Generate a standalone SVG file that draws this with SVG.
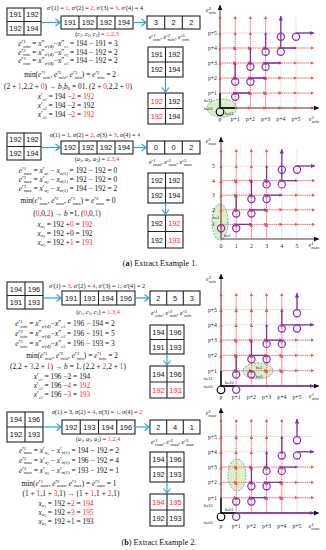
<svg xmlns="http://www.w3.org/2000/svg" width="326" height="550" viewBox="0 0 326 550">
<defs>
<style>
.cell{fill:#fff;stroke:#222;stroke-width:1.1}
.cl{stroke:#222;stroke-width:1.1}
.num{font-family:"Liberation Sans",Arial,sans-serif;font-size:7.4px;text-anchor:middle;fill:#111}
.r{fill:#ff1f1f}
.eq{font-family:"Liberation Serif","Times New Roman",serif;font-size:7.4px;text-anchor:middle;fill:#111}
.sg{font-family:"Liberation Serif","Times New Roman",serif;font-size:6.3px;fill:#111}
.s{font-size:4.8px}
.ss{font-size:3.6px}
.i{font-style:italic}
.ba{stroke:#2aa4e2;stroke-width:1.2;fill:none;marker-end:url(#ba)}
.gr{stroke:#d9d9d9;stroke-width:0.7}
.ax{stroke:#111;stroke-width:0.8;fill:none;marker-end:url(#ax)}
.rd{stroke:#ff5c5c;stroke-width:0.9;stroke-dasharray:1.3 0.9;fill:none;marker-mid:url(#ra);marker-end:url(#ra)}
.pu{stroke:#7b2fbe;stroke-width:1.3;fill:none}
.pa{marker-end:url(#pa)}
.bk{stroke:#000;stroke-width:1.3;fill:none}
.lp{fill:none;stroke:#7b2fbe;stroke-width:1.2}
.lb{fill:none;stroke:#000;stroke-width:1.2}
.el{fill:#d6efc2;fill-opacity:0.9;stroke:#4b98a6;stroke-width:0.8;stroke-dasharray:2 1.2}
.tl{font-family:"Liberation Serif","Times New Roman",serif;font-size:5.8px;fill:#222}
.tm{text-anchor:middle}
.te{text-anchor:end}
.bl{font-family:"Liberation Sans",Arial,sans-serif;font-size:3.8px;fill:#333}
.cap{font-family:"Liberation Serif","Times New Roman",serif;font-size:8.2px;text-anchor:middle;fill:#111}
</style>
<marker id="ba" markerUnits="userSpaceOnUse" markerWidth="7" markerHeight="9" refX="5.5" refY="4.5" orient="auto"><path d="M1,1 L5.5,4.5 L1,8" fill="none" stroke="#2aa4e2" stroke-width="1.2"/></marker>
<marker id="ax" markerUnits="userSpaceOnUse" markerWidth="5" markerHeight="5" viewBox="0 0 6 6" refX="6" refY="3" orient="auto"><path d="M0,0 L6,3 L0,6 z" fill="#111"/></marker>
<marker id="ra" markerUnits="userSpaceOnUse" markerWidth="3.6" markerHeight="3.6" viewBox="0 0 6 6" refX="4" refY="3" orient="auto"><path d="M0,0 L6,3 L0,6 z" fill="#ff4a4a"/></marker>
<marker id="pa" markerUnits="userSpaceOnUse" markerWidth="4.5" markerHeight="4.5" viewBox="0 0 6 6" refX="6" refY="3" orient="auto"><path d="M0,0 L6,3 L0,6 z" fill="#7b2fbe"/></marker>
</defs>
<rect width="326" height="550" fill="#fff"/>

<!-- ================= PANEL 1 ================= -->
<g id="p1-gridA"><rect class="cell" x="7" y="8" width="34" height="27"/><path class="cl" d="M24,8V35M7,21.5H41"/>
<text class="num" x="15.5" y="17.4">191</text><text class="num" x="32.5" y="17.4">192</text><text class="num" x="15.5" y="31">192</text><text class="num" x="32.5" y="31">194</text></g>
<g id="p1-row4"><rect class="cell" x="61" y="16" width="72" height="13"/><path class="cl" d="M79,16V29M97,16V29M115,16V29"/>
<text class="num" x="70" y="25.2">191</text><text class="num" x="88" y="25.2">192</text><text class="num" x="106" y="25.2">192</text><text class="num" x="124" y="25.2">194</text></g>
<g id="p1-row3"><rect class="cell" x="147" y="16" width="53" height="13"/><path class="cl" d="M164.7,16V29M182.3,16V29"/>
<text class="num" x="155.8" y="25.2">3</text><text class="num" x="173.5" y="25.2">2</text><text class="num" x="191.2" y="25.2">2</text></g>
<g id="p1-gridB"><rect class="cell" x="148" y="47" width="35" height="30"/><path class="cl" d="M165.5,47V77M148,62H183"/>
<text class="num" x="156.8" y="57.3">191</text><text class="num" x="174.3" y="57.3">192</text><text class="num" x="156.8" y="72.3">192</text><text class="num" x="174.3" y="72.3">194</text></g>
<g id="p1-gridC"><rect class="cell" x="148" y="93" width="35" height="31"/><path class="cl" d="M165.5,93V124M148,108.5H183"/>
<text class="num r" x="156.8" y="103.6">192</text><text class="num" x="174.3" y="103.6">192</text><text class="num r" x="156.8" y="119.1">192</text><text class="num" x="174.3" y="119.1">194</text></g>
<g id="p1-text">
<text class="sg" x="95" y="9.5" text-anchor="middle"><tspan class="i">σ′</tspan>(1) = <tspan class="r">1</tspan>, <tspan class="i">σ′</tspan>(2) = <tspan class="r">2</tspan>, <tspan class="i">σ′</tspan>(3) = <tspan class="r">3</tspan>, <tspan class="i">σ′</tspan>(4) = 4</text>
<text class="sg" x="97" y="36" text-anchor="middle">(<tspan class="i">c</tspan><tspan class="ss" dy="1">1</tspan><tspan dy="-1">, </tspan><tspan class="i">c</tspan><tspan class="ss" dy="1">2</tspan><tspan dy="-1">, </tspan><tspan class="i">c</tspan><tspan class="ss" dy="1">3</tspan><tspan dy="-1">) = </tspan><tspan class="r">1,2,3</tspan></text>
<text class="sg" x="149" y="39"><tspan class="i">e</tspan>′<tspan class="s" dy="-2.4">1</tspan><tspan class="s i" dx="-2.4" dy="4">min</tspan><tspan dy="-1.6">, </tspan><tspan class="i">e</tspan>′<tspan class="s" dy="-2.4">2</tspan><tspan class="s i" dx="-2.4" dy="4">min</tspan><tspan dy="-1.6">, </tspan><tspan class="i">e</tspan>′<tspan class="s" dy="-2.4">3</tspan><tspan class="s i" dx="-2.4" dy="4">min</tspan></text>
<text class="eq" x="68" y="46"><tspan class="i">e</tspan>′<tspan class="s" dy="-2.8">1</tspan><tspan class="s i" dx="-2.4" dy="4.4">min</tspan><tspan dy="-1.6"> = </tspan><tspan class="i">x</tspan>″<tspan class="s i" dy="1.6">σ′(4)</tspan><tspan dy="-1.6">−</tspan><tspan class="i">x</tspan>″<tspan class="s i" dy="1.6">c</tspan><tspan class="ss" dy="0.8">1</tspan><tspan dy="-2.4"> = 194 − 191 = 3</tspan></text>
<text class="eq" x="68" y="54.5"><tspan class="i">e</tspan>′<tspan class="s" dy="-2.8">2</tspan><tspan class="s i" dx="-2.4" dy="4.4">min</tspan><tspan dy="-1.6"> = </tspan><tspan class="i">x</tspan>″<tspan class="s i" dy="1.6">σ′(4)</tspan><tspan dy="-1.6">−</tspan><tspan class="i">x</tspan>″<tspan class="s i" dy="1.6">c</tspan><tspan class="ss" dy="0.8">2</tspan><tspan dy="-2.4"> = 194 − 192 = 2</tspan></text>
<text class="eq" x="68" y="63"><tspan class="i">e</tspan>′<tspan class="s" dy="-2.8">3</tspan><tspan class="s i" dx="-2.4" dy="4.4">min</tspan><tspan dy="-1.6"> = </tspan><tspan class="i">x</tspan>″<tspan class="s i" dy="1.6">σ′(4)</tspan><tspan dy="-1.6">−</tspan><tspan class="i">x</tspan>″<tspan class="s i" dy="1.6">c</tspan><tspan class="ss" dy="0.8">3</tspan><tspan dy="-2.4"> = 194 − 192 = 2</tspan></text>
<text class="eq" x="70" y="77">min(<tspan class="i">e</tspan>′<tspan class="s" dy="-2.8">1</tspan><tspan class="s i" dx="-2.4" dy="4.4">min</tspan><tspan dy="-1.6">, </tspan><tspan class="i">e</tspan>′<tspan class="s" dy="-2.8">2</tspan><tspan class="s i" dx="-2.4" dy="4.4">min</tspan><tspan dy="-1.6">, </tspan><tspan class="i">e</tspan>′<tspan class="s" dy="-2.8">3</tspan><tspan class="s i" dx="-2.4" dy="4.4">min</tspan><tspan dy="-1.6">) = </tspan><tspan class="i">e</tspan>′<tspan class="s" dy="-2.8">2</tspan><tspan class="s i" dx="-2.4" dy="4.4">min</tspan><tspan dy="-1.6"> = 2</tspan></text>
<text class="eq" x="68" y="89">(2 + <tspan class="r">1</tspan>,2,2 + <tspan class="r">0</tspan>) → <tspan class="i">b</tspan><tspan class="s" dy="1.4">1</tspan><tspan class="i" dy="-1.4">b</tspan><tspan class="s" dy="1.4">0</tspan><tspan dy="-1.4"> = 01, (2 + </tspan><tspan class="r">0</tspan>,2,2 + <tspan class="r">0</tspan>)</text>
<text class="eq" x="66" y="99"><tspan class="i">x</tspan>′<tspan class="s i" dy="1.6">c</tspan><tspan class="ss" dy="0.8">1</tspan><tspan dy="-2.4"> = 194 −</tspan><tspan class="r">2</tspan> = <tspan class="r">192</tspan></text>
<text class="eq" x="66" y="108"><tspan class="i">x</tspan>′<tspan class="s i" dy="1.6">c</tspan><tspan class="ss" dy="0.8">2</tspan><tspan dy="-2.4"> = 194 −2 = 192</tspan></text>
<text class="eq" x="66" y="117"><tspan class="i">x</tspan>′<tspan class="s i" dy="1.6">c</tspan><tspan class="ss" dy="0.8">3</tspan><tspan dy="-2.4"> = 194 −</tspan><tspan class="r">2</tspan> = <tspan class="r">192</tspan></text>
</g>

<!-- ================= PANEL 2 ================= -->
<g id="p2-gridA"><rect class="cell" x="7" y="133" width="34" height="27"/><path class="cl" d="M24,133V160M7,146.5H41"/>
<text class="num" x="15.5" y="142.4">192</text><text class="num" x="32.5" y="142.4">192</text><text class="num" x="15.5" y="156">192</text><text class="num" x="32.5" y="156">194</text></g>
<g id="p2-row4"><rect class="cell" x="61" y="141" width="72" height="13"/><path class="cl" d="M79,141V154M97,141V154M115,141V154"/>
<text class="num" x="70" y="150.2">192</text><text class="num" x="88" y="150.2">192</text><text class="num" x="106" y="150.2">192</text><text class="num" x="124" y="150.2">194</text></g>
<g id="p2-row3"><rect class="cell" x="147" y="141" width="53" height="13"/><path class="cl" d="M164.7,141V154M182.3,141V154"/>
<text class="num" x="155.8" y="150.2">0</text><text class="num" x="173.5" y="150.2">0</text><text class="num" x="191.2" y="150.2">2</text></g>
<g id="p2-gridB"><rect class="cell" x="148" y="173" width="35" height="30"/><path class="cl" d="M165.5,173V203M148,188H183"/>
<text class="num" x="156.8" y="183.3">192</text><text class="num" x="174.3" y="183.3">192</text><text class="num" x="156.8" y="198.3">192</text><text class="num" x="174.3" y="198.3">194</text></g>
<g id="p2-gridC"><rect class="cell" x="148" y="215" width="35" height="33"/><path class="cl" d="M165.5,215V248M148,231.5H183"/>
<text class="num" x="156.8" y="226">192</text><text class="num r" x="174.3" y="226">192</text><text class="num" x="156.8" y="242.5">192</text><text class="num r" x="174.3" y="242.5">193</text></g>
<g id="p2-text">
<text class="sg" x="95" y="137" text-anchor="middle"><tspan class="i">σ</tspan>(1) = 1, <tspan class="i">σ</tspan>(2) = <tspan class="r">2</tspan>, <tspan class="i">σ</tspan>(3) = <tspan class="r">3</tspan>, <tspan class="i">σ</tspan>(4) = <tspan class="r">4</tspan></text>
<text class="sg" x="97" y="161" text-anchor="middle">(<tspan class="i">a</tspan><tspan class="ss" dy="1">1</tspan><tspan dy="-1">, </tspan><tspan class="i">a</tspan><tspan class="ss" dy="1">2</tspan><tspan dy="-1">, </tspan><tspan class="i">a</tspan><tspan class="ss" dy="1">3</tspan><tspan dy="-1">) = </tspan><tspan class="r">2,3,4</tspan></text>
<text class="sg" x="149" y="164"><tspan class="i">e</tspan>′<tspan class="s" dy="-2.4">1</tspan><tspan class="s i" dx="-2.4" dy="4">max</tspan><tspan dy="-1.6">, </tspan><tspan class="i">e</tspan>′<tspan class="s" dy="-2.4">2</tspan><tspan class="s i" dx="-2.4" dy="4">max</tspan><tspan dy="-1.6">, </tspan><tspan class="i">e</tspan>′<tspan class="s" dy="-2.4">3</tspan><tspan class="s i" dx="-2.4" dy="4">max</tspan></text>
<text class="eq" x="68" y="173"><tspan class="i">e</tspan>′<tspan class="s" dy="-2.8">1</tspan><tspan class="s i" dx="-2.4" dy="4.4">max</tspan><tspan dy="-1.6"> = </tspan><tspan class="i">x</tspan>′<tspan class="s i" dy="1.6">a</tspan><tspan class="ss" dy="0.8">1</tspan><tspan dy="-2.4"> − </tspan><tspan class="i">x</tspan><tspan class="s i" dy="1.6">σ(1)</tspan><tspan dy="-1.6"> = 192 − 192 = 0</tspan></text>
<text class="eq" x="68" y="181.5"><tspan class="i">e</tspan>′<tspan class="s" dy="-2.8">2</tspan><tspan class="s i" dx="-2.4" dy="4.4">max</tspan><tspan dy="-1.6"> = </tspan><tspan class="i">x</tspan>′<tspan class="s i" dy="1.6">a</tspan><tspan class="ss" dy="0.8">2</tspan><tspan dy="-2.4"> − </tspan><tspan class="i">x</tspan><tspan class="s i" dy="1.6">σ(1)</tspan><tspan dy="-1.6"> = 192 − 192 = 0</tspan></text>
<text class="eq" x="68" y="190.5"><tspan class="i">e</tspan>′<tspan class="s" dy="-2.8">3</tspan><tspan class="s i" dx="-2.4" dy="4.4">max</tspan><tspan dy="-1.6"> = </tspan><tspan class="i">x</tspan>′<tspan class="s i" dy="1.6">a</tspan><tspan class="ss" dy="0.8">3</tspan><tspan dy="-2.4"> − </tspan><tspan class="i">x</tspan><tspan class="s i" dy="1.6">σ(1)</tspan><tspan dy="-1.6"> = 194 − 192 = 2</tspan></text>
<text class="eq" x="68" y="203">min(<tspan class="i">e</tspan>′<tspan class="s" dy="-2.8">1</tspan><tspan class="s i" dx="-2.4" dy="4.4">max</tspan><tspan dy="-1.6">, </tspan><tspan class="i">e</tspan>′<tspan class="s" dy="-2.8">2</tspan><tspan class="s i" dx="-2.4" dy="4.4">max</tspan><tspan dy="-1.6">, </tspan><tspan class="i">e</tspan>′<tspan class="s" dy="-2.8">3</tspan><tspan class="s i" dx="-2.4" dy="4.4">max</tspan><tspan dy="-1.6">) = </tspan><tspan class="i">e</tspan>′<tspan class="s" dy="-2.8">2</tspan><tspan class="s i" dx="-2.4" dy="4.4">max</tspan><tspan dy="-1.6"> = 0</tspan></text>
<text class="eq" x="67" y="216">(<tspan class="r">0</tspan>,0,<tspan class="r">2</tspan>) → <tspan class="i">b</tspan> =1, (<tspan class="r">0</tspan>,0,<tspan class="r">1</tspan>)</text>
<text class="eq" x="65" y="226.5"><tspan class="i">x</tspan><tspan class="s i" dy="1.6">a</tspan><tspan class="ss" dy="0.8">1</tspan><tspan dy="-2.4"> = 192 +</tspan><tspan class="r">0</tspan> = <tspan class="r">192</tspan></text>
<text class="eq" x="65" y="235.5"><tspan class="i">x</tspan><tspan class="s i" dy="1.6">a</tspan><tspan class="ss" dy="0.8">2</tspan><tspan dy="-2.4"> = 192 +0 = 192</tspan></text>
<text class="eq" x="65" y="244.5"><tspan class="i">x</tspan><tspan class="s i" dy="1.6">a</tspan><tspan class="ss" dy="0.8">3</tspan><tspan dy="-2.4"> = 192 +</tspan><tspan class="r">1</tspan> = <tspan class="r">193</tspan></text>
</g>
<text class="cap" x="160" y="266">(<tspan font-weight="bold">a</tspan>) Extract Example 1.</text>

<!-- ================= PANEL 3 ================= -->
<g id="p3-gridA"><rect class="cell" x="7" y="282" width="36" height="27"/><path class="cl" d="M25,282V309M7,295.5H43"/>
<text class="num" x="16" y="291.5">194</text><text class="num" x="34" y="291.5">196</text><text class="num" x="16" y="305">191</text><text class="num" x="34" y="305">193</text></g>
<g id="p3-row4"><rect class="cell" x="62" y="291" width="73" height="14"/><path class="cl" d="M80.25,291V305M98.5,291V305M116.75,291V305"/>
<text class="num" x="71.1" y="300.7">191</text><text class="num" x="89.4" y="300.7">193</text><text class="num" x="107.6" y="300.7">194</text><text class="num" x="125.9" y="300.7">196</text></g>
<g id="p3-row3"><rect class="cell" x="150" y="291" width="50" height="14"/><path class="cl" d="M166.7,291V305M183.3,291V305"/>
<text class="num" x="158.3" y="300.7">2</text><text class="num" x="175" y="300.7">5</text><text class="num" x="191.7" y="300.7">3</text></g>
<g id="p3-gridB"><rect class="cell" x="150" y="325" width="34" height="29"/><path class="cl" d="M167,325V354M150,339.5H184"/>
<text class="num" x="158.5" y="335">194</text><text class="num" x="175.5" y="335">196</text><text class="num" x="158.5" y="349.5">191</text><text class="num" x="175.5" y="349.5">193</text></g>
<g id="p3-gridC"><rect class="cell" x="150" y="366" width="34" height="32"/><path class="cl" d="M167,366V398M150,382H184"/>
<text class="num" x="158.5" y="377">194</text><text class="num" x="175.5" y="377">196</text><text class="num r" x="158.5" y="393">192</text><text class="num r" x="175.5" y="393">193</text></g>
<g id="p3-text">
<text class="sg" x="97" y="287.5" text-anchor="middle"><tspan class="i">σ′</tspan>(1) = <tspan class="r">3</tspan>, <tspan class="i">σ′</tspan>(2) = <tspan class="r">4</tspan>, <tspan class="i">σ′</tspan>(3) = <tspan class="r">1</tspan>, <tspan class="i">σ′</tspan>(4) = 2</text>
<text class="sg" x="98" y="314" text-anchor="middle">(<tspan class="i">c</tspan><tspan class="ss" dy="1">1</tspan><tspan dy="-1">, </tspan><tspan class="i">c</tspan><tspan class="ss" dy="1">2</tspan><tspan dy="-1">, </tspan><tspan class="i">c</tspan><tspan class="ss" dy="1">3</tspan><tspan dy="-1">) = </tspan><tspan class="r">1,3,4</tspan></text>
<text class="sg" x="151" y="315"><tspan class="i">e</tspan>′<tspan class="s" dy="-2.4">1</tspan><tspan class="s i" dx="-2.4" dy="4">min</tspan><tspan dy="-1.6">, </tspan><tspan class="i">e</tspan>′<tspan class="s" dy="-2.4">2</tspan><tspan class="s i" dx="-2.4" dy="4">min</tspan><tspan dy="-1.6">, </tspan><tspan class="i">e</tspan>′<tspan class="s" dy="-2.4">3</tspan><tspan class="s i" dx="-2.4" dy="4">min</tspan></text>
<text class="eq" x="65" y="326"><tspan class="i">e</tspan>′<tspan class="s" dy="-2.8">1</tspan><tspan class="s i" dx="-2.4" dy="4.4">min</tspan><tspan dy="-1.6"> = </tspan><tspan class="i">x</tspan>″<tspan class="s i" dy="1.6">σ′(4)</tspan><tspan dy="-1.6">−</tspan><tspan class="i">x</tspan>″<tspan class="s i" dy="1.6">c</tspan><tspan class="ss" dy="0.8">1</tspan><tspan dy="-2.4"> = 196 − 194 = 2</tspan></text>
<text class="eq" x="65" y="336"><tspan class="i">e</tspan>′<tspan class="s" dy="-2.8">2</tspan><tspan class="s i" dx="-2.4" dy="4.4">min</tspan><tspan dy="-1.6"> = </tspan><tspan class="i">x</tspan>″<tspan class="s i" dy="1.6">σ′(4)</tspan><tspan dy="-1.6">−</tspan><tspan class="i">x</tspan>″<tspan class="s i" dy="1.6">c</tspan><tspan class="ss" dy="0.8">2</tspan><tspan dy="-2.4"> = 196 − 191 = 5</tspan></text>
<text class="eq" x="65" y="346"><tspan class="i">e</tspan>′<tspan class="s" dy="-2.8">3</tspan><tspan class="s i" dx="-2.4" dy="4.4">min</tspan><tspan dy="-1.6"> = </tspan><tspan class="i">x</tspan>″<tspan class="s i" dy="1.6">σ′(4)</tspan><tspan dy="-1.6">−</tspan><tspan class="i">x</tspan>″<tspan class="s i" dy="1.6">c</tspan><tspan class="ss" dy="0.8">3</tspan><tspan dy="-2.4"> = 196 − 193 = 3</tspan></text>
<text class="eq" x="72" y="358">min(<tspan class="i">e</tspan>′<tspan class="s" dy="-2.8">1</tspan><tspan class="s i" dx="-2.4" dy="4.4">min</tspan><tspan dy="-1.6">, </tspan><tspan class="i">e</tspan>′<tspan class="s" dy="-2.8">2</tspan><tspan class="s i" dx="-2.4" dy="4.4">min</tspan><tspan dy="-1.6">, </tspan><tspan class="i">e</tspan>′<tspan class="s" dy="-2.8">3</tspan><tspan class="s i" dx="-2.4" dy="4.4">min</tspan><tspan dy="-1.6">) = </tspan><tspan class="i">e</tspan>′<tspan class="s" dy="-2.8">1</tspan><tspan class="s i" dx="-2.4" dy="4.4">min</tspan><tspan dy="-1.6"> = 2</tspan></text>
<text class="eq" x="68" y="369">(2,2 + <tspan class="r">3</tspan>,2 + <tspan class="r">1</tspan>) → <tspan class="i">b</tspan> = 1, (2,2 + <tspan class="r">2</tspan>,2 + <tspan class="r">1</tspan>)</text>
<text class="eq" x="62" y="379"><tspan class="i">x</tspan>′<tspan class="s i" dy="1.6">c</tspan><tspan class="ss" dy="0.8">1</tspan><tspan dy="-2.4"> = 196 −2 = 194</tspan></text>
<text class="eq" x="62" y="388"><tspan class="i">x</tspan>′<tspan class="s i" dy="1.6">c</tspan><tspan class="ss" dy="0.8">2</tspan><tspan dy="-2.4"> = 196 −</tspan><tspan class="r">4</tspan> = <tspan class="r">192</tspan></text>
<text class="eq" x="62" y="397"><tspan class="i">x</tspan>′<tspan class="s i" dy="1.6">c</tspan><tspan class="ss" dy="0.8">3</tspan><tspan dy="-2.4"> = 196 −</tspan><tspan class="r">3</tspan> = <tspan class="r">193</tspan></text>
</g>

<!-- ================= PANEL 4 ================= -->
<g id="p4-gridA"><rect class="cell" x="7" y="412" width="36" height="30"/><path class="cl" d="M25,412V442M7,427H43"/>
<text class="num" x="16" y="422.2">194</text><text class="num" x="34" y="422.2">196</text><text class="num" x="16" y="437.2">192</text><text class="num" x="34" y="437.2">193</text></g>
<g id="p4-row4"><rect class="cell" x="62" y="420" width="73" height="14"/><path class="cl" d="M80.25,420V434M98.5,420V434M116.75,420V434"/>
<text class="num" x="71.1" y="429.7">192</text><text class="num" x="89.4" y="429.7">193</text><text class="num" x="107.6" y="429.7">194</text><text class="num" x="125.9" y="429.7">196</text></g>
<g id="p4-row3"><rect class="cell" x="150" y="420" width="50" height="14"/><path class="cl" d="M166.7,420V434M183.3,420V434"/>
<text class="num" x="158.3" y="429.7">2</text><text class="num" x="175" y="429.7">4</text><text class="num" x="191.7" y="429.7">1</text></g>
<g id="p4-gridB"><rect class="cell" x="150" y="452" width="34" height="30"/><path class="cl" d="M167,452V482M150,467H184"/>
<text class="num" x="158.5" y="462.2">194</text><text class="num" x="175.5" y="462.2">196</text><text class="num" x="158.5" y="477.2">192</text><text class="num" x="175.5" y="477.2">193</text></g>
<g id="p4-gridC"><rect class="cell" x="150" y="494" width="34" height="32"/><path class="cl" d="M167,494V526M150,510H184"/>
<text class="num r" x="158.5" y="504.7">194</text><text class="num r" x="175.5" y="504.7">195</text><text class="num" x="158.5" y="520.7">192</text><text class="num" x="175.5" y="520.7">193</text></g>
<g id="p4-text">
<text class="sg" x="97" y="414" text-anchor="middle"><tspan class="i">σ</tspan>(1) = 3, <tspan class="i">σ</tspan>(2) = <tspan class="r">4</tspan>, <tspan class="i">σ</tspan>(3) = <tspan class="r">1</tspan>, <tspan class="i">σ</tspan>(4) = <tspan class="r">2</tspan></text>
<text class="sg" x="98" y="441" text-anchor="middle">(<tspan class="i">a</tspan><tspan class="ss" dy="1">1</tspan><tspan dy="-1">, </tspan><tspan class="i">a</tspan><tspan class="ss" dy="1">2</tspan><tspan dy="-1">, </tspan><tspan class="i">a</tspan><tspan class="ss" dy="1">3</tspan><tspan dy="-1">) = </tspan><tspan class="r">1,2,4</tspan></text>
<text class="sg" x="151" y="444"><tspan class="i">e</tspan>′<tspan class="s" dy="-2.4">1</tspan><tspan class="s i" dx="-2.4" dy="4">max</tspan><tspan dy="-1.6">, </tspan><tspan class="i">e</tspan>′<tspan class="s" dy="-2.4">2</tspan><tspan class="s i" dx="-2.4" dy="4">max</tspan><tspan dy="-1.6">, </tspan><tspan class="i">e</tspan>′<tspan class="s" dy="-2.4">3</tspan><tspan class="s i" dx="-2.4" dy="4">max</tspan></text>
<text class="eq" x="69" y="452.5"><tspan class="i">e</tspan>′<tspan class="s" dy="-2.8">1</tspan><tspan class="s i" dx="-2.4" dy="4.4">max</tspan><tspan dy="-1.6"> = </tspan><tspan class="i">x</tspan>′<tspan class="s i" dy="1.6">a</tspan><tspan class="ss" dy="0.8">1</tspan><tspan dy="-2.4"> − </tspan><tspan class="i">x</tspan>′<tspan class="s i" dy="1.6">σ(1)</tspan><tspan dy="-1.6"> = 194 − 192 = 2</tspan></text>
<text class="eq" x="69" y="462.5"><tspan class="i">e</tspan>′<tspan class="s" dy="-2.8">2</tspan><tspan class="s i" dx="-2.4" dy="4.4">max</tspan><tspan dy="-1.6"> = </tspan><tspan class="i">x</tspan>′<tspan class="s i" dy="1.6">a</tspan><tspan class="ss" dy="0.8">2</tspan><tspan dy="-2.4"> − </tspan><tspan class="i">x</tspan>′<tspan class="s i" dy="1.6">σ(1)</tspan><tspan dy="-1.6"> = 196 − 192 = 4</tspan></text>
<text class="eq" x="69" y="472.5"><tspan class="i">e</tspan>′<tspan class="s" dy="-2.8">3</tspan><tspan class="s i" dx="-2.4" dy="4.4">max</tspan><tspan dy="-1.6"> = </tspan><tspan class="i">x</tspan>′<tspan class="s i" dy="1.6">a</tspan><tspan class="ss" dy="0.8">3</tspan><tspan dy="-2.4"> − </tspan><tspan class="i">x</tspan>′<tspan class="s i" dy="1.6">σ(1)</tspan><tspan dy="-1.6"> = 193 − 192 = 1</tspan></text>
<text class="eq" x="69" y="485.5">min(<tspan class="i">e</tspan>′<tspan class="s" dy="-2.8">1</tspan><tspan class="s i" dx="-2.4" dy="4.4">max</tspan><tspan dy="-1.6">, </tspan><tspan class="i">e</tspan>′<tspan class="s" dy="-2.8">2</tspan><tspan class="s i" dx="-2.4" dy="4.4">max</tspan><tspan dy="-1.6">, </tspan><tspan class="i">e</tspan>′<tspan class="s" dy="-2.8">3</tspan><tspan class="s i" dx="-2.4" dy="4.4">max</tspan><tspan dy="-1.6">) = </tspan><tspan class="i">e</tspan>′<tspan class="s" dy="-2.8">3</tspan><tspan class="s i" dx="-2.4" dy="4.4">max</tspan><tspan dy="-1.6"> = 1</tspan></text>
<text class="eq" x="71" y="495.5">(1 + <tspan class="r">1</tspan>,1 + <tspan class="r">3</tspan>,1) → (1 + <tspan class="r">1</tspan>,1 + <tspan class="r">2</tspan>,1)</text>
<text class="eq" x="66" y="505.5"><tspan class="i">x</tspan><tspan class="s i" dy="1.6">a</tspan><tspan class="ss" dy="0.8">1</tspan><tspan dy="-2.4"> = 192 +</tspan><tspan class="r">2</tspan> = <tspan class="r">194</tspan></text>
<text class="eq" x="66" y="514.5"><tspan class="i">x</tspan><tspan class="s i" dy="1.6">a</tspan><tspan class="ss" dy="0.8">2</tspan><tspan dy="-2.4"> = 192 +</tspan><tspan class="r">3</tspan> = <tspan class="r">195</tspan></text>
<text class="eq" x="66" y="523.5"><tspan class="i">x</tspan><tspan class="s i" dy="1.6">a</tspan><tspan class="ss" dy="0.8">3</tspan><tspan dy="-2.4"> = 192 +1 = 193</tspan></text>
</g>
<text class="cap" x="159" y="545">(<tspan font-weight="bold">b</tspan>) Extract Example 2.</text>

<!-- ================= PLOT 1 ================= -->
<g id="plot1">
<path class="gr" d="M235.2,108V17M250.4,108V17M265.6,108V17M280.8,108V17M296,108V17M220,93H313M220,78H313M220,63H313M220,48H313M220,33H313"/>
<ellipse class="el" cx="222" cy="108" rx="15" ry="9"/>
<path class="ax" d="M220,108V5"/><path class="ax" d="M220,108H319"/>
<polyline class="rd" points="235.2,108 250.4,108 265.6,108 280.8,108 296,108 313,108"/>
<polyline class="rd" points="220,93 235.2,93 250.4,93 265.6,93 280.8,93 296,93 313,93"/>
<polyline class="rd" points="220,78 235.2,78 250.4,78 265.6,78 280.8,78 296,78 313,78"/>
<polyline class="rd" points="220,63 235.2,63 250.4,63 265.6,63 280.8,63 296,63 313,63"/>
<polyline class="rd" points="220,48 235.2,48 250.4,48 265.6,48 280.8,48 296,48 313,48"/>
<polyline class="rd" points="220,93 220,78 220,63 220,48 220,33 220,17"/>
<polyline class="rd" points="235.2,108 235.2,93 235.2,78 235.2,63 235.2,48 235.2,33 235.2,17"/>
<polyline class="rd" points="250.4,108 250.4,93 250.4,78 250.4,63 250.4,48 250.4,33 250.4,17"/>
<polyline class="rd" points="265.6,108 265.6,93 265.6,78 265.6,63 265.6,48 265.6,33 265.6,17"/>
<path class="bk" d="M220,108H235.2M220,108V93"/>
<path class="pu" d="M235.2,93H250.4M250.4,78H265.6M265.6,63H280.8M280.8,48H296M235.2,78V63M250.4,63V48M265.6,48V33"/>
<path class="pu pa" d="M296,33H314"/><path class="pu pa" d="M280.8,48V16"/>
<circle class="lb" cx="220" cy="111.8" r="3.8"/>
<circle class="lp" cx="235.2" cy="96.8" r="3.6"/><circle class="lp" cx="235.2" cy="81.8" r="3.6"/><circle class="lp" cx="250.4" cy="81.8" r="3.6"/><circle class="lp" cx="250.4" cy="66.8" r="3.6"/><circle class="lp" cx="265.6" cy="66.8" r="3.6"/><circle class="lp" cx="265.6" cy="51.8" r="3.6"/><circle class="lp" cx="280.8" cy="51.8" r="3.6"/><circle class="lp" cx="280.8" cy="36.8" r="3.6"/><circle class="lp" cx="296" cy="36.8" r="3.6"/>
<text class="bl" x="204" y="102">b=11</text><text class="bl" x="204" y="110">b=00</text><text class="bl" x="225" y="115">b=01</text>
<text class="tl te" x="217" y="95">p+1</text><text class="tl te" x="217" y="80">p+2</text><text class="tl te" x="217" y="65">p+3</text><text class="tl te" x="217" y="50">p+4</text><text class="tl te" x="217" y="35">p+5</text>
<text class="tl tm" x="220" y="121">p</text><text class="tl tm" x="235.2" y="121">p+1</text><text class="tl tm" x="250.4" y="121">p+2</text><text class="tl tm" x="265.6" y="121">p+3</text><text class="tl tm" x="280.8" y="121">p+4</text><text class="tl tm" x="296" y="121">p+5</text>
<text class="tl tm" x="211" y="12"><tspan class="i">e</tspan><tspan class="s" dy="-2">2</tspan><tspan class="s i" dx="-2.4" dy="3.6">min</tspan></text>
<text class="tl tm" x="314" y="121"><tspan class="i">e</tspan><tspan class="s" dy="-2">1</tspan><tspan class="s i" dx="-2.4" dy="3.6">min</tspan></text>
</g>

<!-- ================= PLOT 2 ================= -->
<g id="plot2">
<path class="gr" d="M236.2,239V150M251.4,239V150M266.6,239V150M281.8,239V150M297,239V150M221,224.4H314M221,209.8H314M221,195.2H314M221,180.6H314M221,166H314"/>
<ellipse class="el" cx="220" cy="222" rx="8" ry="18"/>
<path class="ax" d="M221,239V137"/><path class="ax" d="M221,239H319"/>
<polyline class="rd" points="221,224.4 236.2,224.4 251.4,224.4 266.6,224.4 281.8,224.4 297,224.4 314,224.4"/>
<polyline class="rd" points="221,209.8 236.2,209.8 251.4,209.8 266.6,209.8 281.8,209.8 297,209.8 314,209.8"/>
<polyline class="rd" points="221,195.2 236.2,195.2 251.4,195.2 266.6,195.2 281.8,195.2 297,195.2 314,195.2"/>
<polyline class="rd" points="221,180.6 236.2,180.6 251.4,180.6 266.6,180.6 281.8,180.6 297,180.6 314,180.6"/>
<polyline class="rd" points="221,239 221,224.4 221,209.8 221,195.2 221,180.6 221,166 221,150"/>
<polyline class="rd" points="236.2,239 236.2,224.4 236.2,209.8 236.2,195.2 236.2,180.6 236.2,166 236.2,150"/>
<polyline class="rd" points="251.4,239 251.4,224.4 251.4,209.8 251.4,195.2 251.4,180.6 251.4,166 251.4,150"/>
<polyline class="rd" points="266.6,239 266.6,224.4 266.6,209.8 266.6,195.2 266.6,180.6 266.6,166 266.6,150"/>
<path class="pu" d="M236.2,224.4H251.4M251.4,209.8H266.6M266.6,195.2H281.8M281.8,180.6H297M236.2,209.8V195.2M251.4,195.2V180.6M266.6,180.6V166"/>
<path class="pu pa" d="M297,166H315"/><path class="pu pa" d="M281.8,180.6V149"/>
<circle class="lp" cx="221" cy="228.2" r="3.6"/><circle class="lp" cx="236.2" cy="228.2" r="3.6"/><circle class="lp" cx="236.2" cy="213.6" r="3.6"/><circle class="lp" cx="251.4" cy="213.6" r="3.6"/><circle class="lp" cx="251.4" cy="199" r="3.6"/><circle class="lp" cx="266.6" cy="199" r="3.6"/><circle class="lp" cx="266.6" cy="184.4" r="3.6"/><circle class="lp" cx="281.8" cy="184.4" r="3.6"/><circle class="lp" cx="281.8" cy="169.8" r="3.6"/><circle class="lp" cx="297" cy="169.8" r="3.6"/>
<text class="bl" x="213" y="219">b=1</text><text class="bl" x="224" y="237">b=0</text>
<text class="tl te" x="215" y="226.4">1</text><text class="tl te" x="215" y="211.8">2</text><text class="tl te" x="215" y="197.2">3</text><text class="tl te" x="215" y="182.6">4</text><text class="tl te" x="215" y="168">5</text>
<text class="tl tm" x="221" y="248">0</text><text class="tl tm" x="236.2" y="248">1</text><text class="tl tm" x="251.4" y="248">2</text><text class="tl tm" x="266.6" y="248">3</text><text class="tl tm" x="281.8" y="248">4</text><text class="tl tm" x="297" y="248">5</text>
<text class="tl tm" x="211" y="143"><tspan class="i">e</tspan><tspan class="s" dy="-2">2</tspan><tspan class="s i" dx="-2.4" dy="3.6">max</tspan></text>
<text class="tl tm" x="314" y="247"><tspan class="i">e</tspan><tspan class="s" dy="-2">1</tspan><tspan class="s i" dx="-2.4" dy="3.6">max</tspan></text>
</g>

<!-- ================= PLOT 3 ================= -->
<g id="plot3">
<path class="gr" d="M236.2,386V294M251.4,386V294M266.6,386V294M281.8,386V294M297,386V294M221,370.7H313M221,355.4H313M221,340.1H313M221,324.8H313M221,309.5H313"/>
<ellipse class="el" cx="258" cy="371" rx="15" ry="8"/>
<path class="ax" d="M221,386V274"/><path class="ax" d="M221,386H319"/>
<polyline class="rd" points="221,370.7 236.2,370.7 251.4,370.7 266.6,370.7 281.8,370.7 297,370.7 313,370.7"/>
<polyline class="rd" points="221,355.4 236.2,355.4 251.4,355.4 266.6,355.4 281.8,355.4 297,355.4 313,355.4"/>
<polyline class="rd" points="221,340.1 236.2,340.1 251.4,340.1 266.6,340.1 281.8,340.1 297,340.1 313,340.1"/>
<polyline class="rd" points="221,370.7 221,355.4 221,340.1 221,324.8 221,309.5 221,294"/>
<polyline class="rd" points="236.2,386 236.2,370.7 236.2,355.4 236.2,340.1 236.2,324.8 236.2,309.5 236.2,294"/>
<polyline class="rd" points="251.4,386 251.4,370.7 251.4,355.4 251.4,340.1 251.4,324.8 251.4,309.5 251.4,294"/>
<polyline class="rd" points="266.6,386 266.6,370.7 266.6,355.4 266.6,340.1 266.6,324.8 266.6,309.5 266.6,294"/>
<polyline class="rd" points="281.8,386 281.8,370.7 281.8,355.4 281.8,340.1 281.8,324.8 281.8,309.5 281.8,294"/>
<path class="bk" d="M221,386H236.2M221,386V370.7"/>
<path class="pu" d="M236.2,370.7V355.4M251.4,355.4V340.1M266.6,340.1V324.8M281.8,324.8V309.5M251.4,355.4H266.6M266.6,340.1H281.8"/>
<path class="pu pa" d="M236.2,386H314"/><path class="pu pa" d="M281.8,324.8H314"/><path class="pu pa" d="M297,309.5V293"/>
<circle class="lb" cx="221" cy="389.8" r="3.8"/>
<circle class="lp" cx="236.2" cy="389.8" r="3.6"/><circle class="lp" cx="236.2" cy="374.5" r="3.6"/><circle class="lp" cx="251.4" cy="374.5" r="3.6"/><circle class="lp" cx="251.4" cy="359.2" r="3.6"/><circle class="lp" cx="266.6" cy="359.2" r="3.6"/><circle class="lp" cx="266.6" cy="343.9" r="3.6"/><circle class="lp" cx="281.8" cy="343.9" r="3.6"/><circle class="lp" cx="281.8" cy="328.6" r="3.6"/><circle class="lp" cx="297" cy="328.6" r="3.6"/><circle class="lp" cx="297" cy="313.3" r="3.6"/>
<text class="bl" x="256" y="369">b=1</text><text class="bl" x="256" y="377.5">b=0</text>
<text class="bl" x="204" y="380">b=11</text><text class="bl" x="204" y="388">b=00</text><text class="bl" x="225" y="384">b=10</text>
<text class="tl te" x="217" y="372.7">p+1</text><text class="tl te" x="217" y="357.4">p+2</text><text class="tl te" x="217" y="342.1">p+3</text><text class="tl te" x="217" y="326.8">p+4</text><text class="tl te" x="217" y="311.5">p+5</text>
<text class="tl tm" x="221" y="399">p</text><text class="tl tm" x="236.2" y="399">p+1</text><text class="tl tm" x="251.4" y="399">p+2</text><text class="tl tm" x="266.6" y="399">p+3</text><text class="tl tm" x="281.8" y="399">p+4</text><text class="tl tm" x="297" y="399">p+5</text>
<text class="tl tm" x="211" y="281"><tspan class="i">e</tspan><tspan class="s" dy="-2">2</tspan><tspan class="s i" dx="-2.4" dy="3.6">min</tspan></text>
<text class="tl tm" x="314" y="398"><tspan class="i">e</tspan><tspan class="s" dy="-2">1</tspan><tspan class="s i" dx="-2.4" dy="3.6">min</tspan></text>
</g>

<!-- ================= PLOT 4 ================= -->
<g id="plot4">
<path class="gr" d="M236.2,513V420M251.4,513V420M266.6,513V420M281.8,513V420M297,513V420M221,497.7H313M221,482.4H313M221,467.1H313M221,451.8H313M221,436.5H313"/>
<ellipse class="el" cx="237" cy="475" rx="9" ry="16"/>
<path class="ax" d="M221,513V408"/><path class="ax" d="M221,513H319"/>
<polyline class="rd" points="221,497.7 236.2,497.7 251.4,497.7 266.6,497.7 281.8,497.7 297,497.7 313,497.7"/>
<polyline class="rd" points="221,482.4 236.2,482.4 251.4,482.4 266.6,482.4 281.8,482.4 297,482.4 313,482.4"/>
<polyline class="rd" points="221,467.1 236.2,467.1 251.4,467.1 266.6,467.1 281.8,467.1 297,467.1 313,467.1"/>
<polyline class="rd" points="221,497.7 221,482.4 221,467.1 221,451.8 221,436.5 221,420"/>
<polyline class="rd" points="236.2,513 236.2,497.7 236.2,482.4 236.2,467.1 236.2,451.8 236.2,436.5 236.2,420"/>
<polyline class="rd" points="251.4,513 251.4,497.7 251.4,482.4 251.4,467.1 251.4,451.8 251.4,436.5 251.4,420"/>
<polyline class="rd" points="266.6,513 266.6,497.7 266.6,482.4 266.6,467.1 266.6,451.8 266.6,436.5 266.6,420"/>
<polyline class="rd" points="281.8,513 281.8,497.7 281.8,482.4 281.8,467.1 281.8,451.8 281.8,436.5 281.8,420"/>
<path class="bk" d="M221,513H236.2M221,513V497.7"/>
<path class="pu" d="M251.4,482.4V467.1M266.6,467.1V451.8M281.8,451.8V436.5M251.4,497.7H266.6M266.6,482.4H281.8M281.8,467.1H297"/>
<path class="pu pa" d="M236.2,513H314"/><path class="pu pa" d="M297,451.8H314"/><path class="pu pa" d="M297,436.5V419"/>
<circle class="lb" cx="221" cy="516.8" r="3.8"/>
<circle class="lp" cx="236.2" cy="516.8" r="3.6"/><circle class="lp" cx="236.2" cy="501.5" r="3.6"/><circle class="lp" cx="251.4" cy="501.5" r="3.6"/><circle class="lp" cx="251.4" cy="486.2" r="3.6"/><circle class="lp" cx="266.6" cy="486.2" r="3.6"/><circle class="lp" cx="266.6" cy="470.9" r="3.6"/><circle class="lp" cx="281.8" cy="470.9" r="3.6"/><circle class="lp" cx="281.8" cy="455.6" r="3.6"/><circle class="lp" cx="297" cy="455.6" r="3.6"/><circle class="lp" cx="297" cy="440.3" r="3.6"/>
<text class="bl" x="204" y="507">b=10</text><text class="bl" x="204" y="524">b=00</text><text class="bl" x="225" y="511">b=01</text>
<text class="tl te" x="217" y="499.7">p+1</text><text class="tl te" x="217" y="484.4">p+2</text><text class="tl te" x="217" y="469.1">p+3</text><text class="tl te" x="217" y="453.8">p+4</text><text class="tl te" x="217" y="438.5">p+5</text>
<text class="tl tm" x="221" y="528">p</text><text class="tl tm" x="236.2" y="528">p+1</text><text class="tl tm" x="251.4" y="528">p+2</text><text class="tl tm" x="266.6" y="528">p+3</text><text class="tl tm" x="281.8" y="528">p+4</text><text class="tl tm" x="297" y="528">p+5</text>
<text class="tl tm" x="211" y="415"><tspan class="i">e</tspan><tspan class="s" dy="-2">2</tspan><tspan class="s i" dx="-2.4" dy="3.6">max</tspan></text>
<text class="tl tm" x="314" y="528"><tspan class="i">e</tspan><tspan class="s" dy="-2">1</tspan><tspan class="s i" dx="-2.4" dy="3.6">max</tspan></text>
</g>

<!-- ================= CONNECTORS ================= -->
<g id="connectors">
<path class="ba" d="M41,22.5H60"/><path class="ba" d="M133,22.5H146"/><path class="ba" d="M165.5,77V92"/>
<path class="ba" d="M41,147.5H60"/><path class="ba" d="M133,147.5H146"/><path class="ba" d="M165.5,203V214"/>
<path class="ba" d="M43,298H61"/><path class="ba" d="M135,298H149"/><path class="ba" d="M167,354V365"/>
<path class="ba" d="M43,427H61"/><path class="ba" d="M135,427H149"/><path class="ba" d="M167,482V493"/>
</g>
</svg>
